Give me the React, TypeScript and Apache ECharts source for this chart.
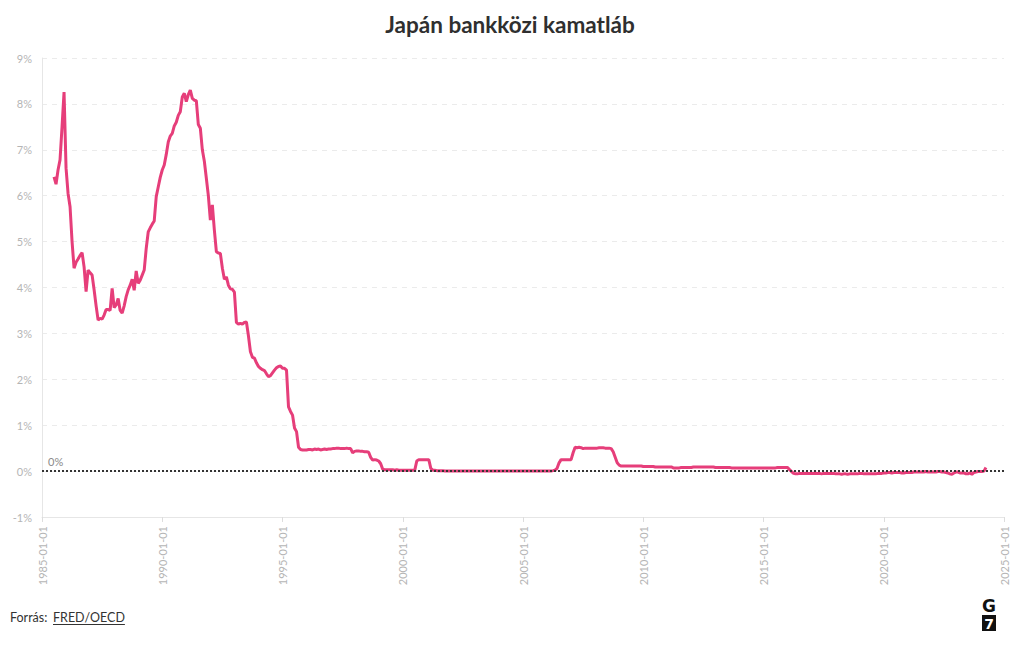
import React, { useEffect, useRef } from "react";
import * as echarts from "echarts";

// Monthly Japanese interbank (call money) rate, %, starting 1985-07
const START_YEAR = 1985;
const START_MONTH = 7;

const rates1985_1989 = [
  // 1985 Jul-Dec
  6.41, 6.25, 6.56, 6.78, 7.5, 8.26,
  // 1986
  6.6, 6.05, 5.76, 5.0, 4.42, 4.55, 4.62, 4.7, 4.76, 4.45, 3.91, 4.38,
  // 1987
  4.32, 4.27, 3.95, 3.6, 3.29, 3.33, 3.31, 3.4, 3.52, 3.52, 3.5, 3.98,
  // 1988
  3.56, 3.62, 3.76, 3.5, 3.44, 3.6, 3.8, 3.95, 4.05, 4.18, 3.94, 4.36,
  // 1989
  4.09, 4.16, 4.27, 4.38, 4.85, 5.21, 5.3, 5.38, 5.45, 5.98, 6.19, 6.4,
];

const rates1990_1994 = [
  6.56, 6.67, 6.9, 7.17, 7.3, 7.36, 7.52, 7.6, 7.75, 7.83, 8.15, 8.23,
  8.05, 8.2, 8.3, 8.12, 8.08, 8.07, 7.55, 7.47, 7.0, 6.75, 6.38, 6.0,
  5.47, 5.8, 5.25, 4.78, 4.75, 4.74, 4.42, 4.18, 4.23, 4.05, 3.97, 3.96,
  3.9, 3.24, 3.2, 3.22, 3.2, 3.24, 3.25, 2.95, 2.6, 2.48, 2.46, 2.36,
  2.28, 2.24, 2.21, 2.19, 2.12, 2.06, 2.08, 2.14, 2.2, 2.25, 2.28, 2.29,
];

const rates1995_1999 = [
  2.24, 2.24, 2.2, 1.4, 1.3, 1.22, 0.94, 0.86, 0.52, 0.47, 0.46, 0.46,
  0.46, 0.47, 0.47, 0.46, 0.48, 0.47, 0.48, 0.46, 0.47, 0.48, 0.47, 0.48,
  0.48, 0.49, 0.49, 0.5, 0.5, 0.49, 0.49, 0.49, 0.5, 0.49, 0.49, 0.4,
  0.43, 0.44, 0.44, 0.43, 0.43, 0.42, 0.42, 0.41, 0.3, 0.24, 0.25, 0.24,
  0.22, 0.16, 0.04, 0.03, 0.03, 0.03, 0.03, 0.03, 0.02, 0.03, 0.02, 0.02,
];

const rates2000_2004 = [
  0.02, 0.02, 0.02, 0.02, 0.02, 0.02, 0.02, 0.22, 0.25, 0.25, 0.25, 0.25,
  0.25, 0.25, 0.06, 0.02, 0.02, 0.01, 0.01, 0.01, 0.01, 0.001, 0.001, 0.001,
  0.002, 0.001, 0.001, 0.001, 0.001, 0.001, 0.001, 0.001, 0.001, 0.001, 0.001, 0.001,
  0.001, 0.001, 0.001, 0.001, 0.001, 0.001, 0.001, 0.001, 0.001, 0.001, 0.001, 0.001,
  0.001, 0.001, 0.001, 0.001, 0.001, 0.001, 0.001, 0.001, 0.001, 0.001, 0.001, 0.001,
];

const rates2005_2009 = [
  0.001, 0.001, 0.001, 0.001, 0.001, 0.001, 0.001, 0.001, 0.001, 0.001, 0.001, 0.001,
  0.001, 0.001, 0.001, 0.01, 0.02, 0.06, 0.18, 0.25, 0.25, 0.25, 0.25, 0.25,
  0.25, 0.4, 0.52, 0.51, 0.52, 0.51, 0.49, 0.5, 0.5, 0.5, 0.5, 0.5,
  0.5, 0.5, 0.51, 0.51, 0.51, 0.5, 0.5, 0.5, 0.49, 0.42, 0.3, 0.18,
  0.13, 0.11, 0.11, 0.11, 0.11, 0.11, 0.11, 0.11, 0.11, 0.11, 0.11, 0.11,
];

const rates2010_2014 = [
  0.1, 0.1, 0.1, 0.1, 0.1, 0.1, 0.09, 0.09, 0.09, 0.09, 0.09, 0.09,
  0.09, 0.09, 0.09, 0.07, 0.07, 0.07, 0.07, 0.08, 0.08, 0.08, 0.08, 0.08,
  0.08, 0.09, 0.09, 0.09, 0.09, 0.09, 0.09, 0.09, 0.09, 0.09, 0.09, 0.09,
  0.08, 0.08, 0.08, 0.08, 0.08, 0.08, 0.08, 0.08, 0.07, 0.07, 0.07, 0.07,
  0.07, 0.07, 0.07, 0.07, 0.07, 0.07, 0.07, 0.07, 0.07, 0.07, 0.07, 0.07,
];

const rates2015_2019 = [
  0.07, 0.07, 0.07, 0.07, 0.07, 0.07, 0.07, 0.08, 0.08, 0.08, 0.08, 0.08,
  0.08, 0.03, -0.01, -0.05, -0.06, -0.06, -0.05, -0.05, -0.05, -0.05, -0.05, -0.05,
  -0.05, -0.05, -0.05, -0.05, -0.05, -0.06, -0.05, -0.05, -0.05, -0.05, -0.05, -0.05,
  -0.06, -0.06, -0.06, -0.07, -0.06, -0.06, -0.07, -0.06, -0.06, -0.06, -0.06, -0.06,
  -0.05, -0.05, -0.06, -0.06, -0.06, -0.06, -0.06, -0.06, -0.06, -0.05, -0.05, -0.05,
];

const rates2020_2024 = [
  -0.04, -0.04, -0.03, -0.03, -0.04, -0.03, -0.03, -0.03, -0.03, -0.04, -0.04, -0.03,
  -0.03, -0.03, -0.03, -0.02, -0.02, -0.02, -0.02, -0.02, -0.02, -0.01, -0.02, -0.02,
  -0.02, -0.02, -0.02, -0.01, -0.01, -0.02, -0.02, -0.03, -0.04, -0.06, -0.07, -0.04,
  -0.02, -0.02, -0.04, -0.04, -0.04, -0.06, -0.06, -0.04, -0.07, -0.03, -0.02, -0.01,
  // 2024 Jan-Apr
  -0.01, -0.01, 0.0, 0.08,
];

const X_MIN = 1985;
const X_MAX = 2025;
const X_STEP = 5;
const Y_MIN = -1;
const Y_MAX = 9;

const TITLE = "Japán bankközi kamatláb";
const SOURCE_LABEL = "Forrás:";
const SOURCE_NAME = "FRED/OECD";

const FONT = "Lato, 'Noto Sans', sans-serif";

export default function App() {
  const ref = useRef<HTMLDivElement>(null);

  useEffect(() => {
    if (!ref.current) return;
    const chart = echarts.init(ref.current, null, { renderer: "svg" });
    const all = [
      ...rates1985_1989,
      ...rates1990_1994,
      ...rates1995_1999,
      ...rates2000_2004,
      ...rates2005_2009,
      ...rates2010_2014,
      ...rates2015_2019,
      ...rates2020_2024,
    ];
    const data = all.map((v, i) => [START_YEAR + (START_MONTH - 1 + i) / 12, v]);

    const srcFont = "12.5px " + FONT;
    const nameWidth = echarts.format.getTextRect
      ? (echarts.format as any).getTextRect(SOURCE_NAME, srcFont).width
      : 70;

    chart.setOption({
      animation: false,
      textStyle: { fontFamily: FONT },
      title: {
        text: TITLE,
        left: "center",
        top: 8,
        textStyle: { fontSize: 22.5, fontWeight: "bold", color: "#2f2f2f", fontFamily: FONT },
      },
      grid: { left: 42, right: 16, top: 58, bottom: 133 },
      xAxis: {
        type: "value",
        min: X_MIN,
        max: X_MAX,
        interval: X_STEP,
        axisLine: { show: true, onZero: false, lineStyle: { color: "#e6e6e6" } },
        axisTick: { show: true, length: 5, lineStyle: { color: "#dddddd" } },
        splitLine: { show: false },
        axisLabel: {
          rotate: 90,
          margin: 9,
          color: "#b5b5b5",
          fontSize: 11,
          formatter: (v: number) => `${v}-01-01`,
        },
      },
      yAxis: {
        type: "value",
        min: Y_MIN,
        max: Y_MAX,
        interval: 1,
        axisLine: { show: true, lineStyle: { color: "#e6e6e6" } },
        axisTick: { show: false },
        splitLine: { show: true, lineStyle: { color: "#ebebeb", type: [5, 5] } },
        axisLabel: { color: "#b5b5b5", fontSize: 11, margin: 10, formatter: "{value}%" },
      },
      series: [
        {
          type: "line",
          data,
          showSymbol: false,
          lineStyle: { color: "#e63e7a", width: 3 },
          z: 3,
        },
        {
          type: "line",
          data: [],
          z: 4,
          markLine: {
            silent: true,
            symbol: ["none", "none"],
            data: [{ yAxis: 0 }],
            lineStyle: { type: [2, 2], color: "#333333", width: 2 },
            label: {
              show: true,
              position: "insideStartTop",
              formatter: "0%",
              color: "#8a8a8a",
              fontSize: 11,
              distance: [6, 4],
            },
          },
        },
      ],
      graphic: [
        {
          type: "text",
          x: 10,
          y: 617,
          style: {
            text: SOURCE_LABEL,
            fill: "#333",
            font: srcFont,
            verticalAlign: "middle",
          },
        },
        {
          type: "text",
          x: 53,
          y: 617,
          style: {
            text: SOURCE_NAME,
            fill: "#333",
            font: srcFont,
            verticalAlign: "middle",
          },
        },
        {
          type: "line",
          shape: { x1: 53, y1: 624.5, x2: 53 + (nameWidth || 70), y2: 624.5 },
          style: { stroke: "#333", lineWidth: 1 },
        },
        {
          type: "text",
          x: 989,
          y: 606,
          style: {
            text: "G",
            fill: "#111",
            fontSize: 17,
            fontWeight: "bold",
            fontFamily: "'DejaVu Sans', sans-serif",
            align: "center",
            verticalAlign: "middle",
          },
        },
        {
          type: "rect",
          shape: { x: 982, y: 615, width: 14, height: 16 },
          style: { fill: "#111" },
        },
        {
          type: "text",
          x: 989,
          y: 623.5,
          style: {
            text: "7",
            fill: "#fff",
            fontSize: 14,
            fontWeight: "bold",
            fontFamily: "'DejaVu Sans', sans-serif",
            align: "center",
            verticalAlign: "middle",
          },
        },
      ],
    });
    return () => chart.dispose();
  }, []);

  return (
    <div
      ref={ref}
      style={{ position: "absolute", left: 0, top: 0, width: 1020, height: 650 }}
    />
  );
}
